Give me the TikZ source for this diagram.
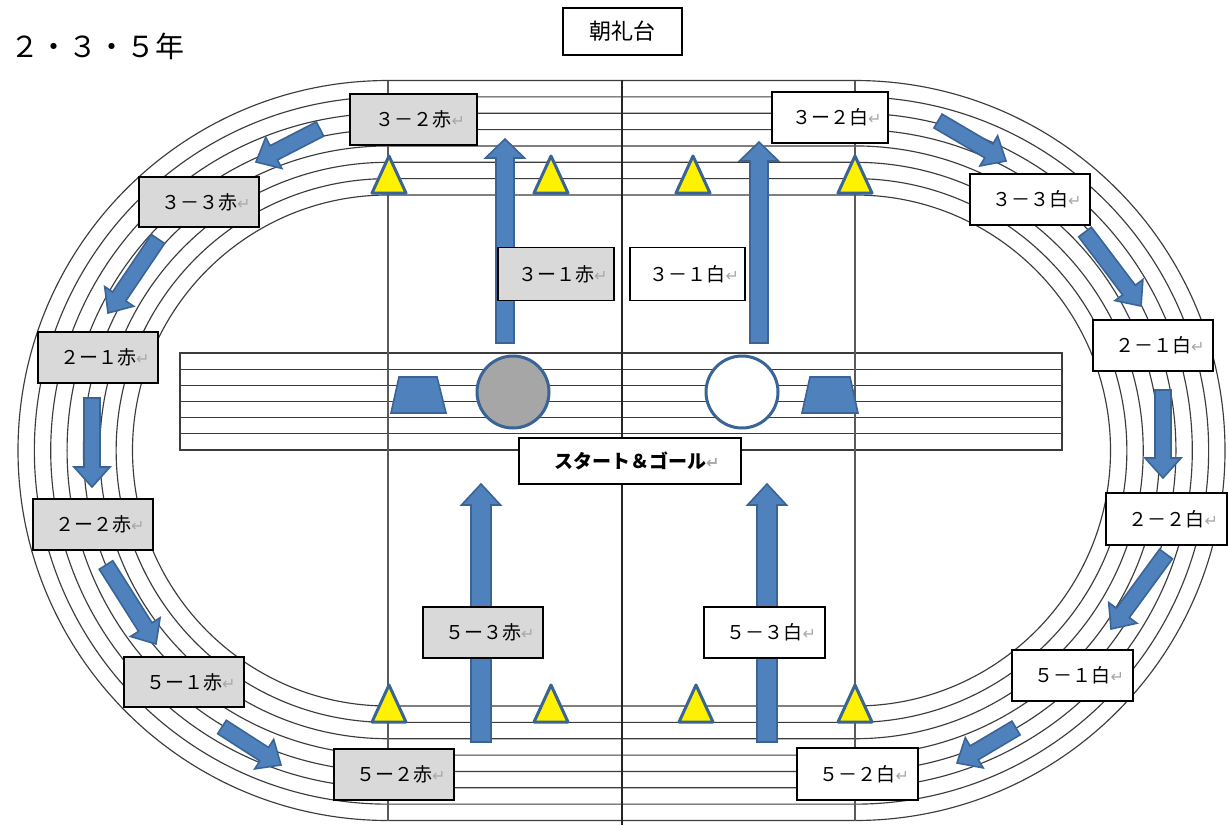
\documentclass[tikz,border=0pt]{standalone}
\usepackage{fontspec}
\setmainfont{Noto Sans CJK JP}
\newfontfamily\retfont{DejaVu Sans}
\usetikzlibrary{calc}
\definecolor{arrowfill}{HTML}{4F81BD}
\definecolor{arrowline}{HTML}{3A6496}
\definecolor{boxgray}{HTML}{D9D9D9}
\definecolor{circgray}{HTML}{A6A6A6}
\definecolor{trackline}{HTML}{3C3C3C}
\definecolor{vgray}{HTML}{5A5A5A}
\definecolor{retgray}{HTML}{A8A8A8}
\newcommand\ret{\rlap{\retfont\fontsize{16}{16}\selectfont\textcolor{retgray}{↵}}}
\newcommand\barrow[6]{%
  \coordinate (#1t) at #2;
  \coordinate (#1h) at #3;
  \coordinate (#1b) at ($(#1h)!#6pt!(#1t)$);
  \draw[blockarrow] ($(#1t)!#4pt!90:(#1h)$) -- ($(#1b)!#4pt!90:(#1h)$) -- ($(#1b)!#5pt!90:(#1h)$) -- (#1h)
    -- ($(#1b)!#5pt!-90:(#1h)$) -- ($(#1b)!#4pt!-90:(#1h)$) -- ($(#1t)!#4pt!-90:(#1h)$) -- cycle;}
\newcommand\cone[2]{\draw[cone] ({#1-17},#2) -- ({#1+17},#2) -- (#1,{#2-37}) -- cycle;}
\tikzset{
  lane/.style={draw=trackline, line width=1.15pt},
  vline/.style={draw=vgray, line width=1.3pt},
  labelbox/.style={draw=black, line width=1.4pt, inner sep=0pt, font=\fontsize{19}{19}\selectfont},
  graybox/.style={labelbox, fill=boxgray},
  whitebox/.style={labelbox, fill=white},
  blockarrow/.style={fill=arrowfill, draw=arrowline, line width=1.6pt, line join=miter},
  cone/.style={fill=yellow, draw=arrowline, line width=3pt, line join=round},
  disc/.style={circle, draw=arrowline, line width=3pt, minimum size=72pt, inner sep=0pt},
  trap/.style={fill=arrowfill, draw=arrowline, line width=1.6pt, line join=miter}
}
\begin{document}
\begin{tikzpicture}[x=1pt,y=-1pt]
\useasboundingbox[fill=white] (0,0) rectangle (1228,825);
% track lanes
\foreach \i in {0,...,7}{
  \pgfmathsetmacro\r{255.5+16.357*\i}
  \draw[lane] (388,{450.5-\r}) -- (855,{450.5-\r}) arc[start angle=-90,end angle=90,radius=\r]
    -- (388,{450.5+\r}) arc[start angle=90,end angle=270,radius=\r] -- cycle;
}
% infield lanes
\draw[lane] (180,353) rectangle (1062,450);
\foreach \y in {369.2,385.3,401.5,417.7,433.8}{\draw[lane] (180,\y) -- (1062,\y);}
% vertical lines
\draw[vline] (388,81) -- (388,821);
\draw[vline] (855,81) -- (855,821);
\draw[draw=black!85, line width=2.4pt] (622,80) -- (622,825);
% curved-track arrows
\barrow{a1}{(320,129)}{(256,162)}{8}{17.5}{20}
\barrow{a2}{(158,239)}{(108,313)}{8}{17.5}{20}
\barrow{a3}{(92,398)}{(92,487)}{8}{18}{20}
\barrow{a4}{(106,565)}{(156,644)}{8}{17.5}{20}
\barrow{a5}{(222,727)}{(281,765)}{8}{17.5}{20}
\barrow{a6}{(938,121)}{(1006,161)}{8}{17.5}{20}
\barrow{a7}{(1085,232)}{(1141,306)}{8}{17.5}{20}
\barrow{a8}{(1163,390)}{(1163,478)}{8}{18}{20}
\barrow{a9}{(1166,554)}{(1111,629)}{8}{17.5}{20}
\barrow{a10}{(1016,728)}{(957,763)}{8}{17.5}{20}
% straight arrows
\barrow{v1}{(505,343)}{(505,139)}{9}{19.5}{19}
\barrow{v2}{(759,343)}{(759,142)}{9}{19.5}{19}
\barrow{v3}{(481,742)}{(481,484)}{10}{19.5}{21}
\barrow{v4}{(767,742)}{(767,484)}{10}{19.5}{21}
% cones
\cone{389}{193}\cone{551}{193}\cone{693}{193}\cone{855}{193}
\cone{389}{722}\cone{551}{722}\cone{696}{722}\cone{855}{722}
% trapezoids
\draw[trap] (391,413) -- (446,413) -- (437,377) -- (399,377) -- cycle;
\draw[trap] (802,413) -- (858,413) -- (850,377) -- (810,377) -- cycle;
% circles
\node[disc, fill=circgray] (red) at (513,392) {};
\node[disc, fill=white] (white) at (742,392) {};
% title and stand
\node[anchor=west, inner sep=0pt, font=\fontsize{29}{29}\selectfont] (title) at (10,46) {２・３・５年};
\node[whitebox, minimum width=119pt, minimum height=47pt, font=\fontsize{22}{22}\selectfont] (stand) at (622.5,31.5) {朝礼台};
% red team boxes
\node[graybox, minimum width=127pt, minimum height=51pt] (r32) at (413.5,119.5) {３－２赤\ret};
\node[graybox, minimum width=120pt, minimum height=50pt] (r33) at (199,202) {３－３赤\ret};
\node[graybox, minimum width=120pt, minimum height=51pt] (r21) at (98,357.5) {２ー１赤\ret};
\node[graybox, minimum width=120pt, minimum height=51pt] (r22) at (93,524.5) {２ー２赤\ret};
\node[graybox, minimum width=120pt, minimum height=50pt] (r51) at (184,682) {５ー１赤\ret};
\node[graybox, minimum width=120pt, minimum height=51pt] (r52) at (394,774.5) {５ー２赤\ret};
\node[graybox, minimum width=116pt, minimum height=53pt] (r31) at (556,274) {３ー１赤\ret};
\node[graybox, minimum width=120pt, minimum height=51pt] (r53) at (483,632.5) {５ー３赤\ret};
% white team boxes
\node[whitebox, minimum width=116pt, minimum height=51pt] (w32) at (830,117.5) {３ー２白\ret};
\node[whitebox, minimum width=120pt, minimum height=51pt] (w33) at (1030,199.5) {３－３白\ret};
\node[whitebox, minimum width=120pt, minimum height=51pt] (w21) at (1153,345.5) {２－１白\ret};
\node[whitebox, minimum width=121pt, minimum height=52pt] (w22) at (1166.5,519) {２－２白\ret};
\node[whitebox, minimum width=121pt, minimum height=51pt] (w51) at (1072.5,675.5) {５－１白\ret};
\node[whitebox, minimum width=121pt, minimum height=52pt] (w52) at (857.5,774) {５－２白\ret};
\node[whitebox, minimum width=115pt, minimum height=53pt] (w31) at (687.5,274) {３－１白\ret};
\node[whitebox, minimum width=121pt, minimum height=51pt] (w53) at (764.5,632.5) {５－３白\ret};
% start & goal
\node[whitebox, minimum width=222pt, minimum height=46pt, font=\fontsize{19}{19}\selectfont\bfseries] (sg) at (630,461) {スタート＆ゴール\ret};
\end{tikzpicture}
\end{document}
